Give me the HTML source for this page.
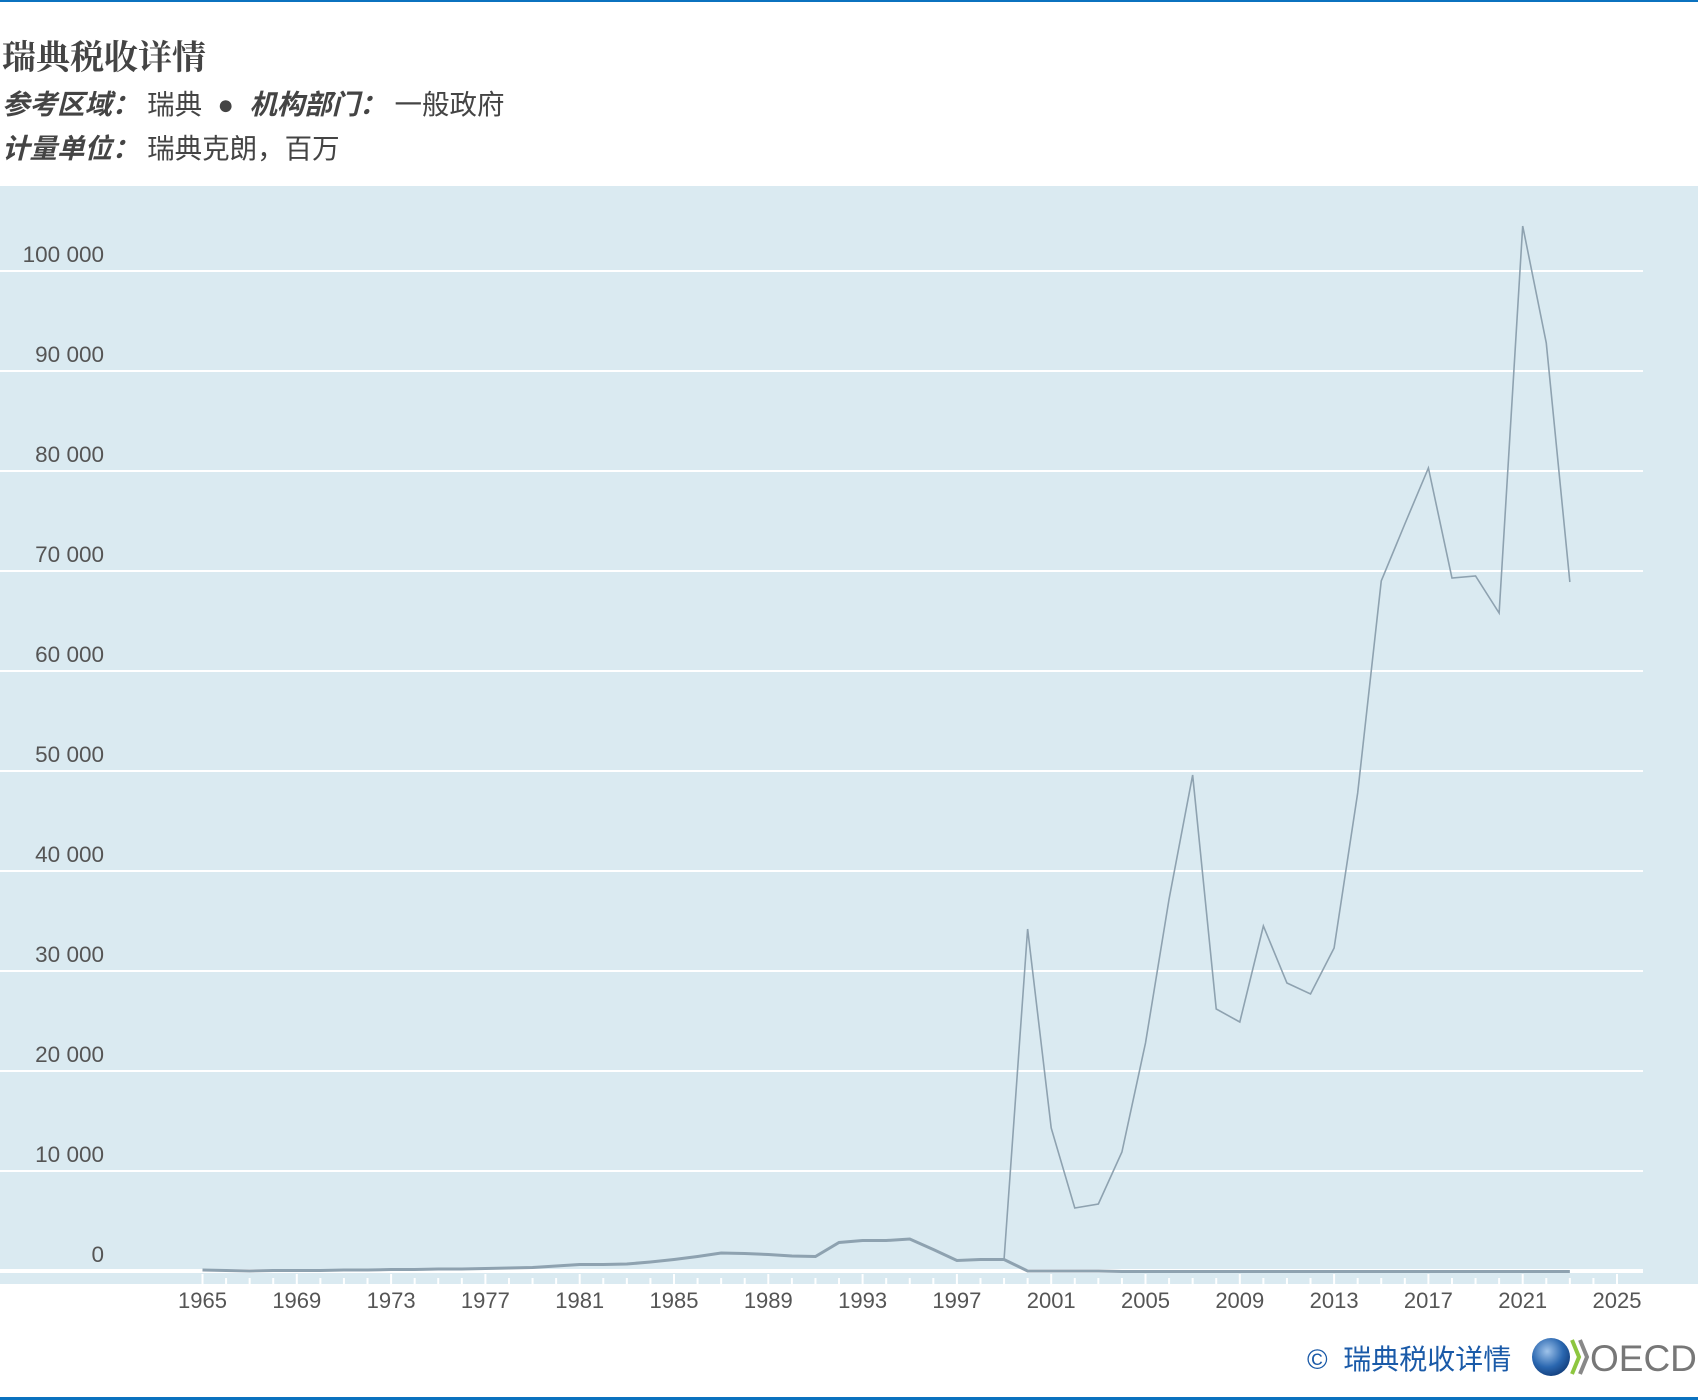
<!DOCTYPE html>
<html><head><meta charset="utf-8">
<style>
html,body{margin:0;padding:0;background:#fff;}
body{width:1698px;height:1400px;position:relative;overflow:hidden;font-family:"Liberation Sans","Noto Sans CJK SC",sans-serif;}
.t{position:absolute;white-space:nowrap;}
</style></head><body>
<div style="position:absolute;left:0;top:0;width:1698px;height:2px;background:#0b72bf"></div>
<div class="t" style="left:2px;top:30px;font-size:34px;font-weight:bold;color:#444;font-family:'Noto Serif CJK SC','Liberation Serif',serif">瑞典税收详情</div>
<div class="t" style="left:2px;top:82px;font-size:27.5px;color:#444"><b><i>参考区域：</i></b>&nbsp;瑞典 &nbsp;●&nbsp; <b><i>机构部门：</i></b>&nbsp;一般政府</div>
<div class="t" style="left:2px;top:126px;font-size:27.5px;color:#444"><b><i>计量单位：</i></b>&nbsp;瑞典克朗，百万</div>
<svg id="chart" width="1698" height="1400" style="position:absolute;left:0;top:0"></svg>
<div class="t" style="left:1307px;top:1338px;font-size:28px;color:#1a5aa8">©&nbsp; 瑞典税收详情</div>
<svg width="170" height="46" style="position:absolute;left:1530px;top:1334px">
<defs><radialGradient id="g" cx="40%" cy="35%" r="70%"><stop offset="0" stop-color="#9fc3ea"/><stop offset="0.6" stop-color="#2a67b0"/><stop offset="1" stop-color="#123d7a"/></radialGradient></defs>
<circle cx="21" cy="23" r="19" fill="url(#g)"/>
<path d="M42 6 L49 23 L42 40" stroke="#8dc63f" stroke-width="4" fill="none"/>
<path d="M50 6 L57 23 L50 40" stroke="#888" stroke-width="4" fill="none"/>
<text x="60" y="37" font-size="37" fill="#777" font-family="Liberation Sans, sans-serif">OECD</text>
</svg>
<div style="position:absolute;left:0;top:1397px;width:1698px;height:3px;background:#0b72bf"></div>
<script>
const years = [];
for (let y = 1965; y <= 2023; y++) years.push(y);
const seriesA = [100,50,0,50,50,50,100,100,150,150,200,200,250,300,350,500,650,650,700,900,1150,1450,1800,1750,1650,1500,1450,2850,3050,3050,3200,2150,1050,1150,1150,0,0,0,0,-50,-50,-50,-50,-50,-50,-50,-50,-50,-50,-50,-50,-50,-50,-50,-50,-50,-50,-50,-50];
const seriesB = [100,50,0,50,50,50,100,100,150,150,200,200,250,300,350,500,650,650,700,900,1150,1450,1800,1750,1650,1500,1450,2850,3050,3050,3200,2150,1050,1150,1150,34200,14300,6300,6700,11900,22800,37200,49600,26200,24900,34500,28800,27700,32300,47800,69000,74700,80300,69300,69500,65800,104500,92800,68900];
const yTicks = [0,10000,20000,30000,40000,50000,60000,70000,80000,90000,100000];
const yTickLabels = ["0","10 000","20 000","30 000","40 000","50 000","60 000","70 000","80 000","90 000","100 000"];
const xLabels = [1965,1969,1973,1977,1981,1985,1989,1993,1997,2001,2005,2009,2013,2017,2021,2025];

const NS = "http://www.w3.org/2000/svg";
const svg = document.getElementById('chart');
const X = y => 202.5 + (y - 1965) * 23.575;
const Y = v => 1271 - v / 100;
function mk(tag, attrs) { const e = document.createElementNS(NS, tag); for (const k in attrs) e.setAttribute(k, attrs[k]); svg.appendChild(e); return e; }

const bg = mk('rect', {x:0, y:186, width:1698, height:1098, fill:'#daeaf1'});



yTicks.forEach((v, i) => {
  const l = mk('line', {x1:0, x2:1643, y1:Y(v), y2:Y(v), stroke:'#fff', 'stroke-width': v === 0 ? 4 : 2});
  
  
  const t = mk('text', {x:104, y:Y(v) - 9, 'text-anchor':'end', 'font-size':22.5, fill:'#555', 'font-family':'Liberation Sans, sans-serif'});
  t.textContent = yTickLabels[i];
  
  
});

for (let y = 1965; y <= 2025; y++) {
  const major = (y - 1965) % 4 === 0;
  const tk = mk('line', {x1:X(y), x2:X(y), y1: major ? 1274 : 1278, y2:1284, stroke:'#fff', 'stroke-width':2});
  
  
}
xLabels.forEach(y => {
  const t = mk('text', {x:X(y), y:1308, 'text-anchor':'middle', 'font-size':22, fill:'#555', 'font-family':'Liberation Sans, sans-serif'});
  t.textContent = y;
  
  
});

const pa = mk('polyline', {points: years.map((y, i) => X(y) + ',' + Y(seriesA[i])).join(' '), fill:'none', stroke:'#8ea2b0', 'stroke-width':3});


const pb = mk('polyline', {points: years.map((y, i) => X(y) + ',' + Y(seriesB[i])).join(' '), fill:'none', stroke:'#8ea2b0', 'stroke-width':1.6});


</script>
</body></html>
